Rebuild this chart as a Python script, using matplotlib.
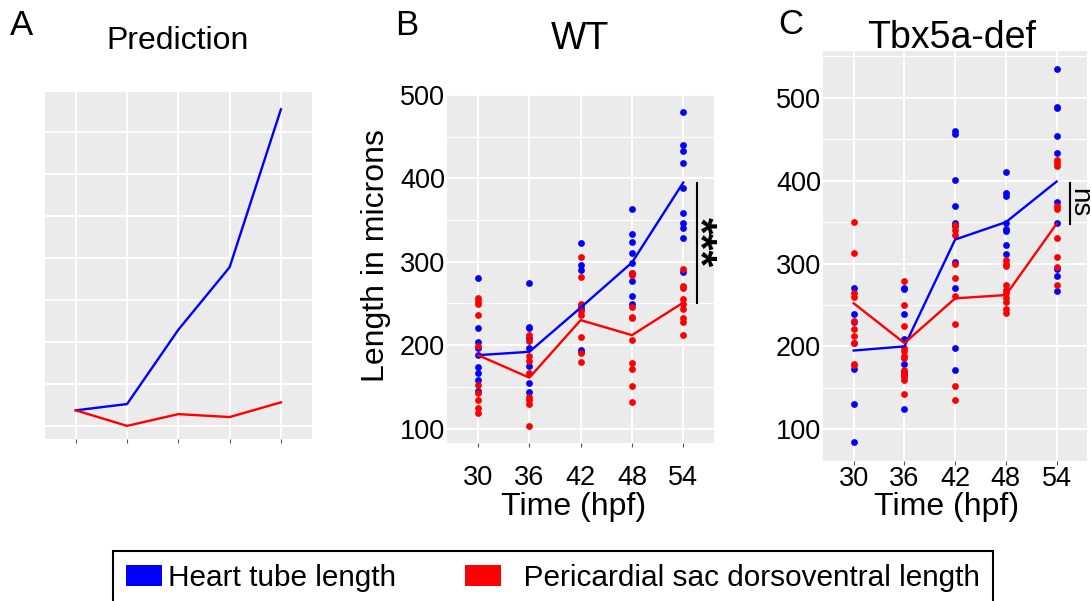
import numpy as np
import matplotlib
matplotlib.use("Agg")
import matplotlib.pyplot as plt
from matplotlib.patches import Patch

plt.rcParams['font.family'] = ['Liberation Sans', 'DejaVu Sans']

hpf = [30, 36, 42, 48, 54]

# panel A: predicted trend (arbitrary units)
pred_heart = [0.37, 0.52, 2.29, 3.78, 7.54]
pred_sac = [0.37, 0.0, 0.28, 0.21, 0.56]

# panel B: WT, individual embryos per time point (microns)
wt_heart = [
    [281, 221, 204, 197, 188, 174, 166, 158, 145],
    [275, 222, 220, 209, 196, 175, 155, 144],
    [323, 296, 290, 247, 243, 194, 192],
    [363, 333, 324, 311, 299, 287, 277, 259, 249],
    [480, 440, 433, 419, 389, 359, 346, 340, 329, 288],
]
wt_sac = [
    [257, 253, 249, 236, 199, 152, 143, 134, 125, 119],
    [212, 205, 187, 181, 166, 138, 134, 130, 103],
    [306, 282, 249, 241, 236, 210, 190, 180],
    [286, 284, 246, 234, 232, 206, 178, 171, 151, 132],
    [291, 271, 269, 255, 249, 243, 232, 228, 212],
]
wt_heart_mean = [188, 192, 245, 299, 395]
wt_sac_mean = [188, 161, 230, 212, 251]

# panel C: Tbx5a-def
tb_heart = [
    [271, 239, 230, 204, 173, 131, 84],
    [271, 269, 239, 209, 179, 169, 165, 124],
    [460, 456, 401, 370, 349, 345, 302, 270, 198, 171],
    [411, 385, 382, 349, 342, 339, 323, 311],
    [535, 489, 488, 454, 433, 374, 349, 294, 285, 267],
]
tb_sac = [
    [350, 313, 264, 260, 231, 221, 212, 204, 179, 177],
    [279, 250, 225, 198, 194, 188, 186, 171, 167, 163, 159, 143],
    [347, 341, 335, 300, 282, 261, 227, 152, 135],
    [304, 300, 297, 274, 268, 265, 258, 254, 245, 240],
    [425, 421, 418, 369, 366, 331, 308, 296, 274],
]
tb_heart_mean = [195, 200, 329, 350, 399]
tb_sac_mean = [252, 204, 258, 262, 348]

W, H = 1091, 601
fig = plt.figure(figsize=(W / 100, H / 100), dpi=100)

def box(l, t, r, b):
    return [l / W, 1 - b / H, (r - l) / W, (b - t) / H]

def style(ax):
    ax.set_facecolor('#EBEBEB')
    for s in ax.spines.values():
        s.set_visible(False)
    ax.set_axisbelow(True)
    ax.grid(which='major', color='white', lw=1.3)
    ax.grid(which='minor', axis='y', color='white', lw=0.8)
    ax.set_xlim(-0.6, 4.6)
    ax.tick_params(which='minor', length=0)

idx = np.arange(len(hpf))

axA = fig.add_axes(box(45, 91.7, 311.7, 439.3))
style(axA)
axA.plot(idx, pred_heart, color='blue', lw=1.7)
axA.plot(idx, pred_sac, color='red', lw=1.7)
axA.set_ylim(-0.32, 7.96)
axA.set_yticks(range(8))
axA.set_yticklabels([])
axA.set_xticks(idx)
axA.set_xticklabels([])
axA.tick_params(axis='y', length=0)
axA.tick_params(axis='x', length=3, color='#555555', width=0.8)

def panel(ax, heart, sac, hm, sm, ylim, minor, xpad):
    style(ax)
    for i in idx:
        ax.scatter(np.full(len(heart[i]), i), heart[i], s=24, color='blue', linewidths=0, zorder=3)
    for i in idx:
        ax.scatter(np.full(len(sac[i]), i), sac[i], s=24, color='red', linewidths=0, zorder=3)
    ax.plot(idx, hm, color='blue', lw=1.7, zorder=4)
    ax.plot(idx, sm, color='red', lw=1.7, zorder=4)
    ax.set_ylim(*ylim)
    ax.set_yticks([100, 200, 300, 400, 500])
    ax.set_yticks(minor, minor=True)
    ax.set_xticks(idx)
    ax.set_xticklabels(hpf)
    ax.tick_params(axis='y', length=0, pad=1.5, labelsize=19.5)
    ax.tick_params(axis='x', length=3, color='#555555', width=0.8, pad=xpad, labelsize=19.5)

axB = fig.add_axes(box(447.3, 95, 714, 442.7))
panel(axB, wt_heart, wt_sac, wt_heart_mean, wt_sac_mean, (83, 500), [150, 250, 350, 450], 13)
axB.set_ylabel('Length in microns', fontsize=23)
axB.yaxis.set_label_coords(-0.211, 0.537)
axB.plot([4.26, 4.26], [250.5, 394.5], color='black', lw=1.5, clip_on=False)
axB.text(4.31, 324, '***', rotation=270, ha='center', va='center', fontsize=31,
         fontweight='bold', clip_on=False)

axC = fig.add_axes(box(823.3, 50.7, 1087, 460.7))
panel(axC, tb_heart, tb_sac, tb_heart_mean, tb_sac_mean, (62, 557), [150, 250, 350, 450, 550], 0.5)
axC.plot([4.265, 4.265], [348, 397], color='black', lw=1.5, clip_on=False)
axC.text(4.44, 373, 'ns', rotation=270, ha='center', va='center', fontsize=20, clip_on=False)

def ftext(x, y, s, **kw):
    fig.text(x / W, 1 - y / H, s, **kw)

ftext(10, 35, 'A', fontsize=25, va='baseline')
ftext(395, 35, 'B', fontsize=25, va='baseline')
ftext(778, 34, 'C', fontsize=25, va='baseline')
ftext(178, 49.3, 'Prediction', fontsize=23, ha='center', va='baseline')
ftext(580, 49.3, 'WT', fontsize=27, ha='center', va='baseline')
ftext(952, 48.3, 'Tbx5a-def', fontsize=27, ha='center', va='baseline')
ftext(574, 515, 'Time (hpf)', fontsize=23, ha='center', va='baseline')
ftext(947, 515, 'Time (hpf)', fontsize=23, ha='center', va='baseline')

handles = [Patch(facecolor='blue', edgecolor='none', label='Heart tube length'),
           Patch(facecolor='red', edgecolor='none', label='  Pericardial sac dorsoventral length')]
leg = fig.legend(handles=handles, loc='upper left', bbox_to_anchor=(113.3 / W, 1 - 551.3 / H),
                 ncol=2, frameon=True, fancybox=False, edgecolor='black', framealpha=1,
                 fontsize=21.4, handlelength=1.23, handleheight=0.75, handletextpad=0.2,
                 columnspacing=2.3, borderpad=0.42, borderaxespad=0)
leg.get_frame().set_linewidth(1.5)

fig.savefig('out.png', dpi=100)
